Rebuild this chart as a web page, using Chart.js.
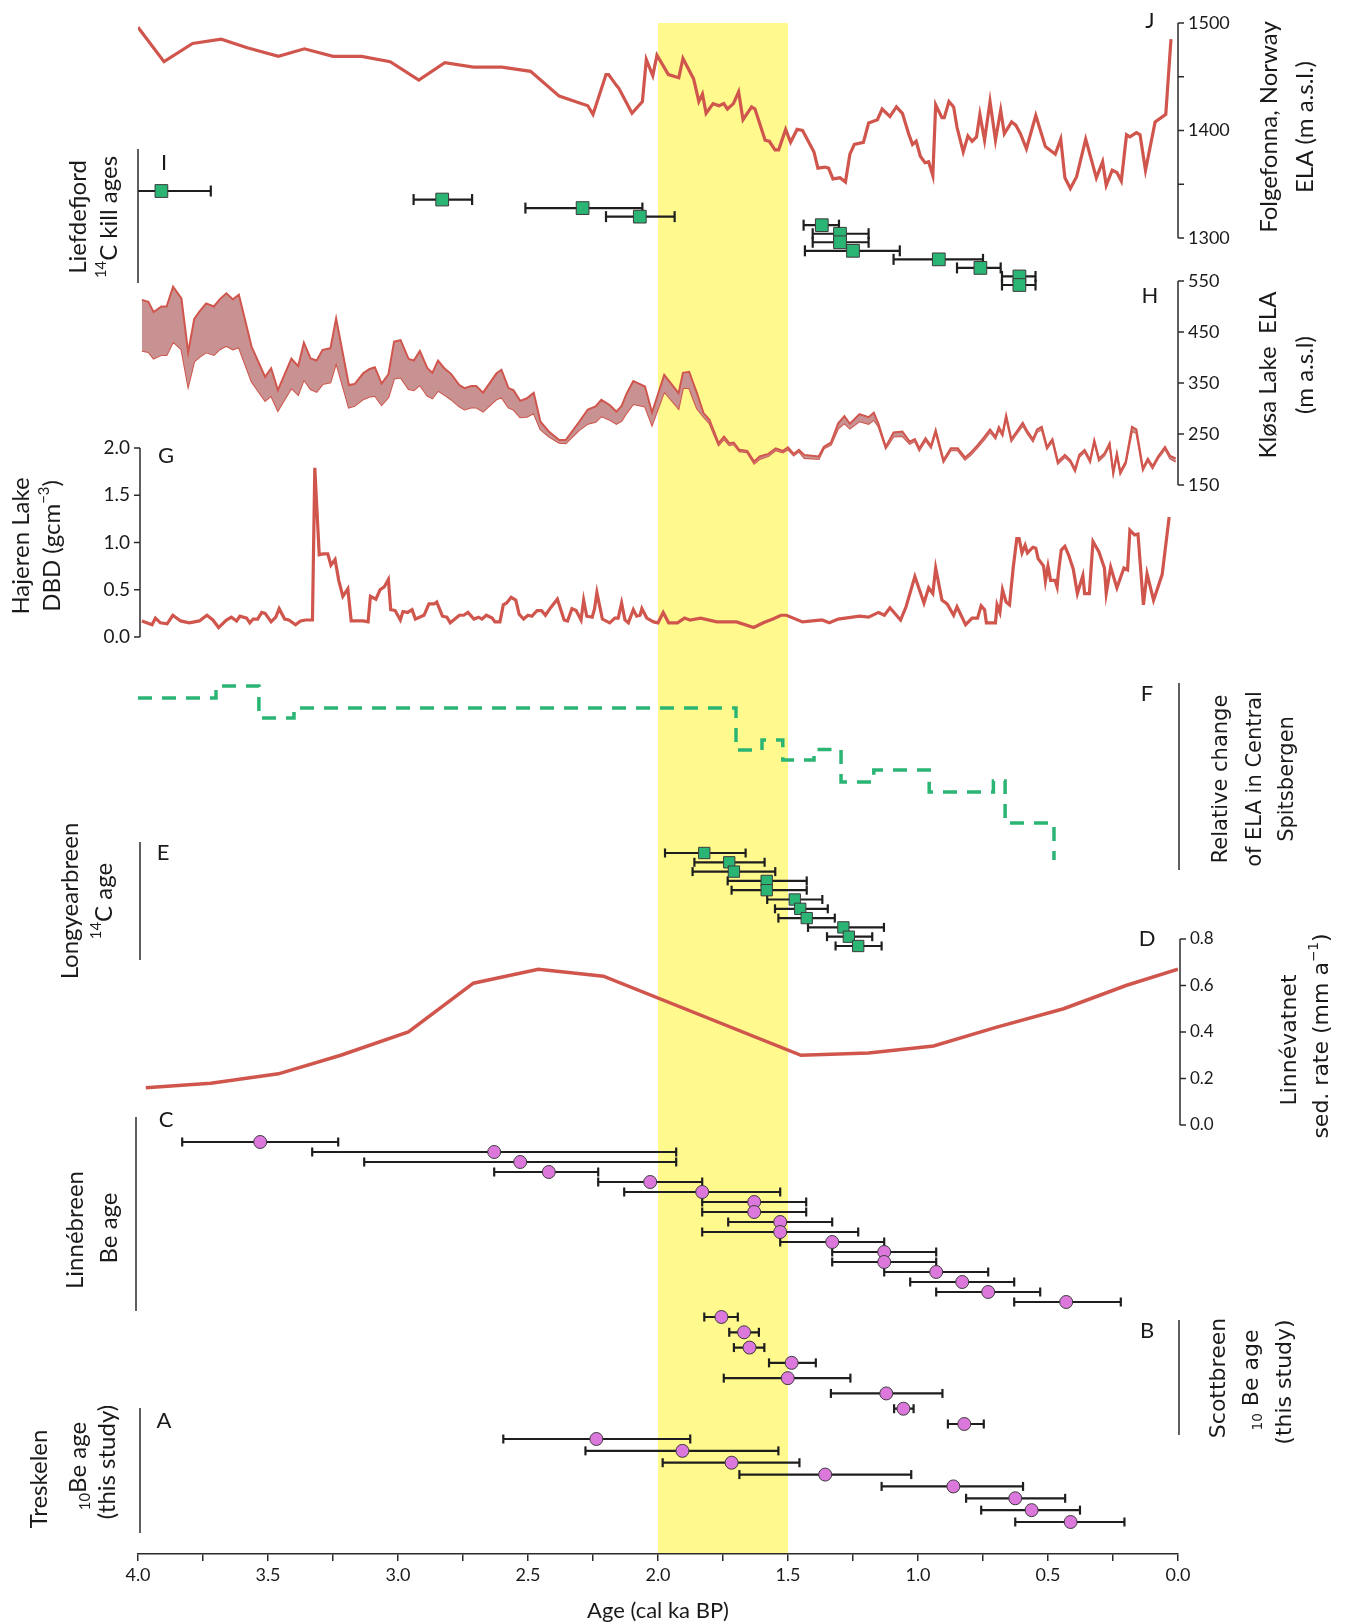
<!DOCTYPE html>
<html>
<head>
<meta charset="utf-8">
<script src="https://cdn.jsdelivr.net/npm/chart.js@4.4.1/dist/chart.umd.min.js"></script>
<style>
  html, body { margin: 0; padding: 0; background: #fff; }
  canvas { display: block; }
</style>
</head>
<body>
<canvas id="myChart" width="1350" height="1624"></canvas>
<script>
// ---- data (ages in cal ka BP) ----

// J: Folgefonna ELA (m a.s.l.)
const jAge = [4.00, 3.90, 3.79, 3.68, 3.58, 3.46, 3.36, 3.25, 3.14, 3.03,
  2.92, 2.82, 2.71, 2.60, 2.49, 2.38, 2.27, 2.25, 2.20, 2.19,
  2.16, 2.15, 2.10, 2.06, 2.045, 2.02, 2.004, 1.96, 1.92, 1.904,
  1.863, 1.843, 1.829, 1.815, 1.788, 1.765, 1.747, 1.733, 1.71, 1.69,
  1.673, 1.64, 1.627, 1.588, 1.572, 1.55, 1.536, 1.509, 1.49, 1.465,
  1.444, 1.40, 1.385, 1.358, 1.344, 1.327, 1.30, 1.279, 1.262, 1.245,
  1.21, 1.19, 1.156, 1.138, 1.108, 1.083, 1.06, 1.036, 1.021, 1.007,
  0.991, 0.973, 0.959, 0.943, 0.932, 0.908, 0.899, 0.881, 0.863, 0.85,
  0.826, 0.808, 0.792, 0.775, 0.762, 0.744, 0.723, 0.702, 0.682, 0.668,
  0.64, 0.624, 0.606, 0.583, 0.547, 0.51, 0.472, 0.451, 0.435, 0.414,
  0.39, 0.355, 0.314, 0.29, 0.276, 0.253, 0.235, 0.218, 0.198, 0.185,
  0.16, 0.146, 0.125, 0.088, 0.047, 0.027];
const jEla = [1496, 1464, 1481, 1485, 1477, 1469, 1476, 1469, 1469, 1464,
  1447, 1463, 1459, 1459, 1455, 1432, 1423, 1415, 1452, 1452,
  1442, 1439, 1416, 1427, 1466, 1451, 1470, 1452, 1449, 1467,
  1448, 1427, 1434, 1416, 1425, 1423, 1425, 1420, 1425, 1436,
  1410, 1422, 1420, 1391, 1390, 1382, 1382, 1401, 1389, 1401,
  1400, 1380, 1365, 1366, 1365, 1355, 1356, 1352, 1378, 1387,
  1389, 1407, 1410, 1420, 1413, 1422, 1416, 1397, 1387, 1390,
  1376, 1370, 1371, 1358, 1424, 1412, 1412, 1427, 1422, 1403,
  1380, 1395, 1390, 1394, 1415, 1391, 1427, 1391, 1419, 1397,
  1408, 1405, 1397, 1383, 1414, 1385, 1378, 1392, 1356, 1346,
  1357, 1392, 1356, 1371, 1349, 1363, 1361, 1353, 1396, 1394,
  1398, 1396, 1363, 1408, 1415, 1485];

// I: Liefdefjord 14C kill ages (age, older and younger end of the error bar)
const iAge   = [3.91, 2.83, 2.29, 2.07, 1.37, 1.30, 1.30, 1.25, 0.92, 0.76, 0.61, 0.61];
const iOld   = [4.12, 2.94, 2.51, 2.20, 1.44, 1.405, 1.405, 1.435, 1.094, 0.85, 0.677, 0.677];
const iYoung = [3.72, 2.715, 2.06, 1.936, 1.304, 1.19, 1.19, 1.07, 0.75, 0.682, 0.548, 0.548];

// H: Kløsa Lake ELA range (m a.s.l.)
const hAge = [3.985, 3.96, 3.94, 3.91, 3.89, 3.865, 3.833, 3.807, 3.784, 3.764,
  3.738, 3.708, 3.686, 3.66, 3.635, 3.612, 3.563, 3.511, 3.488, 3.462,
  3.41, 3.384, 3.362, 3.336, 3.313, 3.29, 3.26, 3.238, 3.189, 3.167,
  3.134, 3.111, 3.089, 3.063, 3.037, 3.015, 2.99, 2.959, 2.939, 2.916,
  2.887, 2.868, 2.846, 2.822, 2.796, 2.764, 2.744, 2.718, 2.699, 2.673,
  2.621, 2.602, 2.575, 2.556, 2.53, 2.504, 2.478, 2.452, 2.42, 2.38,
  2.355, 2.303, 2.27, 2.24, 2.218, 2.186, 2.16, 2.14, 2.12, 2.095, 2.05, 2.023,
  1.976, 1.921, 1.904, 1.88, 1.863, 1.85, 1.825, 1.802, 1.767, 1.746,
  1.726, 1.709, 1.687, 1.657, 1.63, 1.609, 1.575, 1.547, 1.52, 1.5,
  1.478, 1.458, 1.437, 1.382, 1.362, 1.335, 1.307, 1.283, 1.262, 1.225,
  1.19, 1.17, 1.152, 1.124, 1.094, 1.06, 1.032, 1.012, 0.995, 0.971,
  0.95, 0.932, 0.902, 0.874, 0.847, 0.819, 0.798, 0.771, 0.744, 0.723,
  0.702, 0.689, 0.675, 0.661, 0.641, 0.62, 0.597, 0.579, 0.558, 0.542,
  0.524, 0.504, 0.483, 0.462, 0.435, 0.414, 0.396, 0.38, 0.359, 0.338,
  0.322, 0.304, 0.283, 0.263, 0.249, 0.235, 0.222, 0.201, 0.177, 0.16,
  0.135, 0.116, 0.098, 0.077, 0.05, 0.03, 0.009];
const hUpper = [513, 509, 489, 500, 500, 539, 516, 410, 475, 490,
  506, 500, 514, 526, 514, 523, 421, 362, 379, 336,
  398, 383, 429, 398, 394, 415, 418, 477, 346, 348,
  369, 377, 381, 349, 367, 431, 434, 397, 394, 413,
  379, 370, 394, 379, 368, 346, 340, 344, 344, 331,
  369, 376, 340, 336, 315, 320, 331, 274, 255, 238,
  238, 274, 298, 304, 317, 307, 294, 305, 330, 354, 343, 292,
  366, 330, 370, 372, 348, 330, 291, 278, 232, 245,
  232, 233, 219, 217, 196, 206, 211, 222, 217, 224,
  211, 219, 209, 206, 225, 233, 271, 285, 270, 289,
  283, 292, 270, 225, 253, 255, 235, 240, 222, 242,
  227, 258, 199, 222, 222, 204, 213, 228, 245, 259,
  245, 264, 251, 287, 240, 255, 272, 255, 240, 259,
  264, 225, 240, 196, 209, 199, 181, 209, 219, 199,
  238, 202, 212, 232, 176, 212, 176, 196, 264, 259,
  183, 202, 187, 206, 225, 207, 202];
const hLower = [413, 411, 398, 405, 405, 431, 416, 344, 392, 401,
  410, 405, 416, 423, 416, 420, 353, 315, 325, 296,
  340, 327, 357, 338, 333, 348, 351, 390, 302, 305,
  318, 323, 325, 307, 322, 359, 361, 338, 336, 346,
  325, 320, 335, 327, 318, 304, 298, 302, 302, 294,
  318, 322, 302, 298, 283, 284, 291, 259, 245, 233,
  232, 258, 270, 274, 285, 278, 270, 276, 292, 309, 304, 268,
  333, 300, 340, 340, 317, 300, 284, 271, 228, 240,
  228, 230, 216, 214, 192, 201, 207, 218, 214, 220,
  208, 216, 203, 201, 222, 229, 261, 271, 261, 275,
  270, 278, 265, 222, 245, 246, 231, 236, 218, 238,
  223, 253, 195, 218, 218, 200, 209, 224, 240, 254,
  241, 259, 247, 282, 236, 251, 267, 251, 236, 254,
  259, 221, 236, 192, 205, 195, 177, 205, 215, 195,
  234, 198, 208, 228, 172, 208, 172, 192, 256, 252,
  179, 198, 183, 202, 221, 202, 196];

// G: Hajeren Lake dry bulk density (g cm-3)
const gAge = [3.985, 3.946, 3.933, 3.914, 3.888, 3.866, 3.836, 3.803, 3.764, 3.735,
  3.712, 3.69, 3.66, 3.641, 3.621, 3.608, 3.582, 3.57, 3.557, 3.54,
  3.524, 3.511, 3.488, 3.47, 3.457, 3.436, 3.42, 3.394, 3.375, 3.355,
  3.329, 3.32, 3.303, 3.288, 3.27, 3.258, 3.242, 3.228, 3.212, 3.193,
  3.18, 3.134, 3.115, 3.106, 3.085, 3.069, 3.053, 3.037, 3.028, 3.011,
  2.991, 2.981, 2.963, 2.946, 2.933, 2.9, 2.881, 2.861, 2.851, 2.829,
  2.812, 2.799, 2.764, 2.747, 2.731, 2.708, 2.69, 2.677, 2.66, 2.638,
  2.627, 2.608, 2.595, 2.582, 2.565, 2.547, 2.534, 2.517, 2.5, 2.485,
  2.465, 2.448, 2.433, 2.413, 2.387, 2.361, 2.348, 2.331, 2.315, 2.296,
  2.286, 2.274, 2.253, 2.244, 2.235, 2.214, 2.186, 2.166, 2.153, 2.14,
  2.127, 2.114, 2.095, 2.082, 2.069, 2.062, 2.043, 2.017,
  2.0, 1.98, 1.959, 1.925, 1.898, 1.877, 1.836, 1.774, 1.698, 1.632,
  1.595, 1.558, 1.527, 1.506, 1.444, 1.369, 1.341, 1.307, 1.225, 1.19,
  1.152, 1.129, 1.108, 1.067, 1.046, 1.012, 0.977, 0.959, 0.943, 0.932,
  0.908, 0.888, 0.863, 0.85, 0.817, 0.792, 0.771, 0.757, 0.744, 0.737,
  0.702, 0.696, 0.685, 0.675, 0.661, 0.648, 0.634, 0.62, 0.611, 0.6,
  0.588, 0.579, 0.558, 0.547, 0.538, 0.517, 0.51, 0.5, 0.49, 0.473,
  0.465, 0.46, 0.449, 0.435, 0.421, 0.403, 0.387, 0.366, 0.359, 0.341,
  0.327, 0.304, 0.283, 0.276, 0.259, 0.235, 0.208, 0.194, 0.185, 0.167,
  0.154, 0.133, 0.119, 0.094, 0.061, 0.034];
const gDbd = [0.17, 0.13, 0.20, 0.15, 0.14, 0.23, 0.17, 0.15, 0.17, 0.23,
  0.18, 0.10, 0.18, 0.21, 0.17, 0.22, 0.20, 0.15, 0.19, 0.19,
  0.26, 0.25, 0.16, 0.21, 0.30, 0.19, 0.18, 0.13, 0.17, 0.18,
  0.18, 1.79, 0.87, 0.88, 0.88, 0.76, 0.82, 0.60, 0.43, 0.51,
  0.17, 0.17, 0.16, 0.43, 0.40, 0.50, 0.53, 0.61, 0.29, 0.28,
  0.18, 0.27, 0.26, 0.29, 0.19, 0.23, 0.35, 0.35, 0.37, 0.22,
  0.21, 0.15, 0.23, 0.23, 0.26, 0.19, 0.21, 0.19, 0.23, 0.20,
  0.16, 0.16, 0.34, 0.36, 0.42, 0.39, 0.24, 0.19, 0.23, 0.22,
  0.28, 0.28, 0.23, 0.31, 0.40, 0.18, 0.17, 0.30, 0.28, 0.18,
  0.39, 0.22, 0.21, 0.30, 0.47, 0.19, 0.15, 0.20, 0.20, 0.36,
  0.18, 0.15, 0.29, 0.22, 0.23, 0.30, 0.20, 0.16,
  0.15, 0.26, 0.15, 0.15, 0.20, 0.18, 0.20, 0.16, 0.16, 0.10,
  0.15, 0.19, 0.23, 0.23, 0.16, 0.18, 0.15, 0.19, 0.22, 0.21,
  0.26, 0.23, 0.31, 0.18, 0.32, 0.64, 0.36, 0.52, 0.46, 0.73,
  0.39, 0.35, 0.23, 0.32, 0.13, 0.20, 0.20, 0.33, 0.29, 0.15,
  0.15, 0.34, 0.26, 0.50, 0.37, 0.34, 0.73, 1.04, 1.04, 0.89,
  0.97, 0.89, 0.95, 0.94, 0.83, 0.75, 0.59, 0.75, 0.60, 0.60,
  0.53, 0.68, 0.92, 0.96, 0.87, 0.72, 0.46, 0.65, 0.46, 0.46,
  1.01, 0.90, 0.73, 0.46, 0.74, 0.52, 0.73, 0.71, 1.13, 1.08,
  1.09, 0.34, 0.67, 0.39, 0.66, 1.27];

// F: relative ELA change in Central Spitsbergen (step levels, arbitrary units)
const fBreak = [4.0, 3.70, 3.535, 3.40, 1.70, 1.60, 1.52, 1.40, 1.296, 1.17, 0.957, 0.71, 0.665, 0.477, 0.477];
const fLevel = [0, 1.2, -2.0, -1.0, -5.2, -4.2, -6.2, -5.15, -8.4, -7.2, -9.4, -8.3, -12.5, -16.2];

// E: Longyearbreen 14C ages
const eAge   = [1.822, 1.726, 1.708, 1.582, 1.582, 1.474, 1.453, 1.428, 1.287, 1.266, 1.23];
const eOld   = [1.973, 1.86, 1.867, 1.732, 1.717, 1.58, 1.55, 1.537, 1.423, 1.35, 1.317];
const eYoung = [1.663, 1.59, 1.549, 1.428, 1.428, 1.368, 1.347, 1.32, 1.131, 1.176, 1.14];

// D: Linnévatnet sedimentation rate (mm a-1)
const dAge  = [3.97, 3.72, 3.46, 3.22, 2.96, 2.71, 2.46, 2.21, 1.45, 1.19, 0.94, 0.70, 0.44, 0.20, 0.0];
const dRate = [0.16, 0.18, 0.22, 0.30, 0.40, 0.61, 0.67, 0.64, 0.30, 0.31, 0.34, 0.42, 0.50, 0.60, 0.67];

// C: Linnébreen Be ages
const cAge   = [3.53, 2.63, 2.53, 2.42, 2.03, 1.83, 1.63, 1.63, 1.53, 1.53, 1.33, 1.13, 1.13, 0.93, 0.83, 0.73, 0.43];
const cOld   = [3.83, 3.33, 3.13, 2.63, 2.23, 2.13, 1.83, 1.83, 1.73, 1.83, 1.53, 1.33, 1.33, 1.13, 1.03, 0.93, 0.63];
const cYoung = [3.23, 1.93, 1.93, 2.23, 1.83, 1.53, 1.43, 1.43, 1.33, 1.23, 1.13, 0.93, 0.93, 0.73, 0.63, 0.53, 0.22];

// B: Scottbreen 10Be ages (this study)
const bAge   = [1.756, 1.669, 1.648, 1.486, 1.501, 1.122, 1.056, 0.822];
const bOld   = [1.822, 1.726, 1.708, 1.573, 1.747, 1.335, 1.092, 0.885];
const bYoung = [1.693, 1.612, 1.591, 1.393, 1.26, 0.906, 1.017, 0.747];

// A: Treskelen 10Be ages (this study)
const aAge   = [2.237, 1.906, 1.717, 1.357, 0.864, 0.626, 0.563, 0.413];
const aOld   = [2.595, 2.279, 1.982, 1.687, 1.14, 0.815, 0.757, 0.626];
const aYoung = [1.876, 1.537, 1.456, 1.026, 0.596, 0.434, 0.377, 0.206];

// highlighted interval
const highlight = [2.0, 1.5];

// tick values
const xTicksMajor = [4.0, 3.5, 3.0, 2.5, 2.0, 1.5, 1.0, 0.5, 0.0];
const jTicks = [1500, 1450, 1400, 1350, 1300];
const jLabels = [1500, 1400, 1300];
const hTicks = [550, 450, 350, 250, 150];
const gTicks = [0, 0.5, 1.0, 1.5, 2.0];
const dTicks = [0, 0.2, 0.4, 0.6, 0.8];

// ---- layout ----
const TOP = 20, BOTTOM = 1554;
const RED = '#d0564d';
const BAND = '#c99292';
const GREEN = '#2bb574';
const PINK = '#dc78dc';
const INK = '#1e1e1e';

function valueBand(v1, p1, v2, p2) {
  const k = (p2 - p1) / (v1 - v2);
  return { min: v2 - (BOTTOM - p2) / k, max: v1 + (p1 - TOP) / k, reverse: false };
}
function rankBand(n, p1, pN) {
  const k = (pN - p1) / (n - 1);
  return { min: 1 - (p1 - TOP) / k, max: n + (BOTTOM - pN) / k, reverse: true };
}
function yAxis(b) {
  return { type: 'linear', display: false, min: b.min, max: b.max, reverse: b.reverse, bounds: 'data' };
}

const xy = (xs, ys) => xs.map((x, i) => ({ x: x, y: ys[i] }));

function errorBars(olds, youngs, axis, cap) {
  const pts = [];
  olds.forEach((o, i) => {
    pts.push({ x: o, y: i + 1 }, { x: youngs[i], y: i + 1 }, { x: youngs[i], y: null });
  });
  return {
    data: pts, yAxisID: axis, borderColor: INK, borderWidth: 2.2,
    pointStyle: 'line', pointRotation: 90, pointRadius: cap,
    pointBorderColor: INK, pointBorderWidth: 2.2, spanGaps: false, order: 2
  };
}
function markers(ages, axis, style, radius, fill) {
  return {
    data: ages.map((a, i) => ({ x: a, y: i + 1 })), yAxisID: axis, showLine: false,
    pointStyle: style, pointRadius: radius, pointBackgroundColor: fill,
    pointBorderColor: '#3b3b3b', pointBorderWidth: 1, order: 1
  };
}
function lineSet(data, axis, width) {
  return { data: data, yAxisID: axis, borderColor: RED, borderWidth: width, pointRadius: 0, tension: 0, fill: false, order: 3 };
}

const fPoints = [];
fLevel.forEach((lv, i) => {
  fPoints.push({ x: fBreak[i], y: lv }, { x: fBreak[i + 1], y: lv });
});

const datasets = [
  lineSet(xy(jAge, jEla), 'yJ', 3.2),
  Object.assign(lineSet(xy(hAge, hUpper), 'yH', 2), { fill: '+1', backgroundColor: BAND }),
  lineSet(xy(hAge, hLower), 'yH', 2),
  lineSet(xy(gAge, gDbd), 'yG', 3.2),
  Object.assign(lineSet(fPoints, 'yF', 3.5), { borderColor: GREEN, borderDash: [14, 10] }),
  lineSet(xy(dAge, dRate), 'yD', 3.5),
  errorBars(iOld, iYoung, 'yI', 5.5), markers(iAge, 'yI', 'rect', 9, GREEN),
  errorBars(eOld, eYoung, 'yE', 4.5), markers(eAge, 'yE', 'rect', 8, GREEN),
  errorBars(cOld, cYoung, 'yC', 4.5), markers(cAge, 'yC', 'circle', 6.5, PINK),
  errorBars(bOld, bYoung, 'yB', 4.5), markers(bAge, 'yB', 'circle', 6.5, PINK),
  errorBars(aOld, aYoung, 'yA', 4.5), markers(aAge, 'yA', 'circle', 6.5, PINK)
];

// ---- drawing helpers ----
function richText(ctx, parts, x, y, size, family, rotate) {
  ctx.save();
  ctx.translate(x, y);
  if (rotate) ctx.rotate(-Math.PI / 2);
  ctx.textBaseline = 'middle';
  ctx.textAlign = 'left';
  ctx.fillStyle = '#1a1a1a';
  const pieces = parts.map(p => (typeof p === 'string' ? { t: p } : p));
  let w = 0;
  pieces.forEach(p => {
    p.s = (p.sup || p.sub) ? size * 0.62 : size;
    ctx.font = p.s + 'px ' + family;
    p.w = ctx.measureText(p.t).width;
    w += p.w;
  });
  let cx = -w / 2;
  pieces.forEach(p => {
    ctx.font = p.s + 'px ' + family;
    const dy = p.sup ? -size * 0.32 : (p.sub ? size * 0.28 : 0);
    ctx.fillText(p.t, cx, dy);
    cx += p.w;
  });
  ctx.restore();
}

function vline(ctx, x, y1, y2) {
  ctx.beginPath();
  ctx.moveTo(x, y1);
  ctx.lineTo(x, y2);
  ctx.stroke();
}

function valueAxis(ctx, scale, x, ticks, labels, side, font, fmt) {
  const top = scale.getPixelForValue(ticks[ticks.length - 1]);
  const bot = scale.getPixelForValue(ticks[0]);
  vline(ctx, x, Math.min(top, bot), Math.max(top, bot));
  ctx.font = font;
  ctx.textBaseline = 'middle';
  ctx.textAlign = side > 0 ? 'left' : 'right';
  ticks.forEach(t => {
    const y = scale.getPixelForValue(t);
    ctx.beginPath();
    ctx.moveTo(x, y);
    ctx.lineTo(x + side * 6, y);
    ctx.stroke();
  });
  labels.forEach(t => {
    const y = scale.getPixelForValue(t);
    ctx.fillText(fmt(t), x + side * 10, y);
  });
}

const bandPlugin = {
  id: 'highlightBand',
  beforeDraw(chart) {
    const ctx = chart.ctx, xs = chart.scales.x;
    const x1 = xs.getPixelForValue(highlight[0]);
    const x2 = xs.getPixelForValue(highlight[1]);
    ctx.save();
    ctx.fillStyle = '#fff98e';
    ctx.fillRect(x1, 23, x2 - x1, chart.chartArea.bottom - 23 - 1);
    ctx.restore();
  }
};

const panelPlugin = {
  id: 'panels',
  afterDatasetsDraw(chart) {
    const ctx = chart.ctx, s = chart.scales;
    const xL = s.x.getPixelForValue(4.0), xR = s.x.getPixelForValue(0.0);
    ctx.save();
    ctx.strokeStyle = '#2a2a2a';
    ctx.fillStyle = '#1a1a1a';
    ctx.lineWidth = 1.5;

    // numeric panel axes
    valueAxis(ctx, s.yJ, xR, jTicks, jLabels, 1, '18px Lato', v => String(v));
    valueAxis(ctx, s.yH, xR, hTicks, hTicks, 1, '18px Lato', v => String(v));
    valueAxis(ctx, s.yG, xL + 2, gTicks, gTicks, -1, '19px Lato', v => v.toFixed(1));
    valueAxis(ctx, s.yD, xR + 2, dTicks, dTicks, 1, '17px Lato', v => v.toFixed(1));

    // plain brackets for the age panels
    vline(ctx, xL, 149, 283);       // I
    vline(ctx, xR + 1, 683, 870);   // F
    vline(ctx, xL + 2, 842, 960);   // E
    vline(ctx, xL - 2, 1117, 1311); // C
    vline(ctx, xR + 1, 1320, 1435); // B
    vline(ctx, xL + 2, 1408, 1533); // A

    // panel letters
    ctx.font = '22px Lato';
    ctx.textAlign = 'center';
    ctx.textBaseline = 'middle';
    [['J', 1150, 21], ['I', 164, 163], ['H', 1150, 296], ['G', 166, 456], ['F', 1147, 694],
     ['E', 163, 853], ['D', 1147, 939], ['C', 166, 1120], ['B', 1147, 1331], ['A', 164, 1421]]
      .forEach(l => ctx.fillText(l[0], l[1], l[2]));

    // axis titles
    const L = 'Lato', V = '"DejaVu Sans"';
    richText(ctx, ['Folgefonna, Norway'], 1269, 127, 24, L, true);
    richText(ctx, ['ELA (m a.s.l.)'], 1305, 127, 24, L, true);
    richText(ctx, ['Kløsa Lake  ELA'], 1268, 375, 24, L, true);
    richText(ctx, ['(m a.s.l)'], 1305, 375, 24, L, true);
    richText(ctx, ['Liefdefjord'], 78, 217, 24, L, true);
    richText(ctx, [{ t: '14', sup: true }, 'C kill ages'], 109, 217, 24, L, true);
    richText(ctx, ['Hajeren Lake'], 21, 546, 24, L, true);
    richText(ctx, ['DBD (gcm', { t: '\u22123', sup: true }, ')'], 52, 546, 24, L, true);
    richText(ctx, ['Relative change'], 1222, 779, 21, V, true);
    richText(ctx, ['of ELA in Central'], 1256, 779, 21, V, true);
    richText(ctx, ['Spitsbergen'], 1288, 779, 21, V, true);
    richText(ctx, ['Longyearbreen'], 70, 901, 24, L, true);
    richText(ctx, [{ t: '14', sup: true }, 'C age'], 104, 901, 24, L, true);
    richText(ctx, ['Linnévatnet'], 1290, 1040, 22, V, true);
    richText(ctx, ['sed. rate (mm a', { t: '\u22121', sup: true }, ')'], 1322, 1036, 22, V, true);
    richText(ctx, ['Linnébreen'], 75, 1230, 24, L, true);
    richText(ctx, ['Be age'], 109, 1228, 24, L, true);
    richText(ctx, ['Scottbreen'], 1219, 1378, 22, V, true);
    richText(ctx, [{ t: '10', sub: true }, ' Be age'], 1252, 1380, 22, V, true);
    richText(ctx, ['(this study)'], 1285, 1382, 22, V, true);
    richText(ctx, ['Treskelen'], 39, 1479, 24, L, true);
    richText(ctx, [{ t: '10', sub: true }, 'Be age'], 78, 1466, 24, L, true);
    richText(ctx, ['(this study)'], 107, 1462, 24, L, true);
    ctx.restore();
  }
};

Chart.defaults.font.family = 'Lato';
Chart.defaults.color = '#1a1a1a';

const chart = new Chart(document.getElementById('myChart').getContext('2d'), {
  type: 'line',
  data: { datasets: datasets },
  options: {
    responsive: false,
    animation: false,
    devicePixelRatio: 1,
    events: [],
    layout: { padding: { top: TOP, left: 138, right: 172, bottom: 0 } },
    plugins: { legend: { display: false }, tooltip: { enabled: false } },
    scales: {
      x: {
        type: 'linear', min: 0, max: 4, reverse: true, bounds: 'data',
        afterFit: scale => { scale.height = 70; },
        ticks: {
          stepSize: 0.25, autoSkip: false, maxRotation: 0, padding: 3,
          font: { size: 18 }, color: '#1a1a1a',
          callback: v => (xTicksMajor.some(t => Math.abs(t - v) < 1e-6) ? v.toFixed(1) : '')
        },
        grid: { drawOnChartArea: false, drawTicks: true, tickLength: 7, color: '#2a2a2a', lineWidth: 1.5 },
        border: { display: true, color: '#2a2a2a', width: 1.5 },
        title: { display: true, text: 'Age (cal ka BP)', font: { size: 22 }, color: '#1a1a1a', padding: { top: 0, bottom: 0 } }
      },
      yJ: yAxis(valueBand(1500, 23, 1300, 238)),
      yI: yAxis(rankBand(iAge.length, 191, 285)),
      yH: yAxis(valueBand(550, 281, 150, 485)),
      yG: yAxis(valueBand(2.0, 448, 0, 637)),
      yF: yAxis(valueBand(0, 698, -10, 798)),
      yE: yAxis(rankBand(eAge.length, 853, 946)),
      yD: yAxis(valueBand(0.8, 939, 0, 1125)),
      yC: yAxis(rankBand(cAge.length, 1142, 1302)),
      yB: yAxis(rankBand(bAge.length, 1317, 1424)),
      yA: yAxis(rankBand(aAge.length, 1439, 1522))
    }
  },
  plugins: [bandPlugin, panelPlugin]
});
</script>
</body>
</html>
